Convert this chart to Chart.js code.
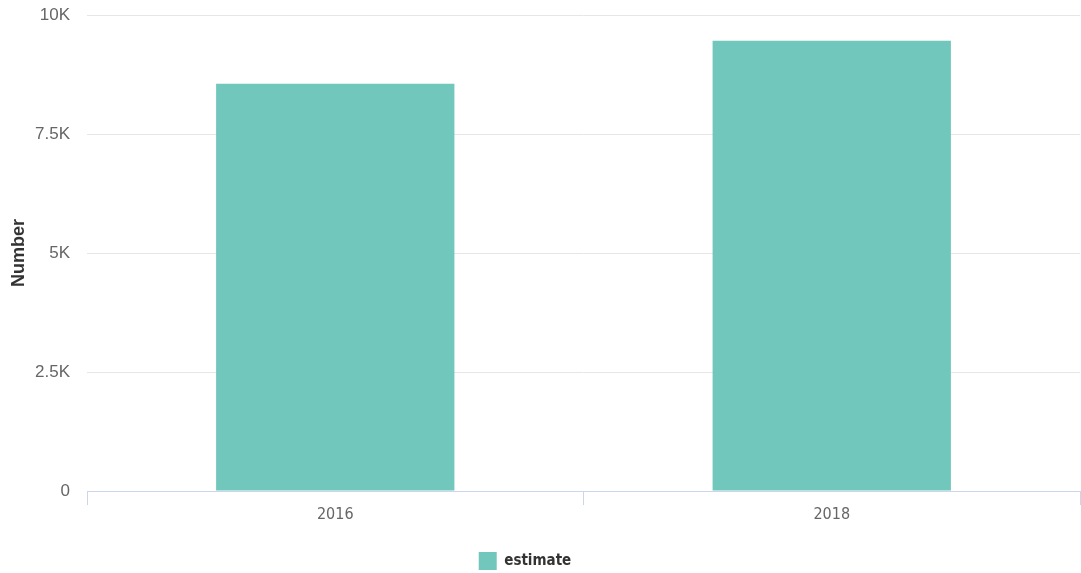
<!DOCTYPE html>
<html>
<head>
<meta charset="utf-8">
<script src="https://cdn.jsdelivr.net/npm/chart.js@4"></script>
<style>
  html, body { margin: 0; padding: 0; background: #fff; }
  #wrap { width: 1081px; height: 573px; }
</style>
</head>
<body>
<div id="wrap"><canvas id="numberChart" width="1081" height="573"></canvas></div>
<script>
// data
const years = ['2016', '2018'];
const estimate = [8555, 9460];
const yTicks = [0, 2500, 5000, 7500, 10000];

const barColor = '#72c7bd';
const narrow = '"Liberation Sans Narrow", "DejaVu Sans Condensed", "Liberation Sans", sans-serif';

function fmtK(v) {
  if (v === 0) return '0';
  return (v / 1000) + 'K';
}

// nudge the legend a bit left, like the original
const legendShift = {
  id: 'legendShift',
  afterLayout(chart) {
    if (chart.legend) {
      chart.legend.left -= 15;
      chart.legend.right -= 15;
    }
  }
};

const ctx = document.getElementById('numberChart').getContext('2d');

const data = {
  labels: years,
  datasets: [
    {
      label: 'estimate',
      data: estimate,
      backgroundColor: barColor,
      borderWidth: 0,
      barPercentage: 0.48,
      categoryPercentage: 1.0
    }
  ]
};

const config = {
  type: 'bar',
  data: data,
  plugins: [legendShift],
  options: {
    responsive: false,
    animation: false,
    layout: { padding: { left: 0, right: 1, top: 15, bottom: -7 } },
    scales: {
      y: {
        min: 0,
        max: 10000,
        afterBuildTicks: (scale) => { scale.ticks = yTicks.map(v => ({ value: v })); },
        afterFit: (scale) => {
          scale.width = 87;
          scale.paddingTop = 0;
          scale.paddingBottom = 0;
        },
        ticks: {
          padding: 17,
          color: '#666666',
          font: { family: '"Liberation Sans", Arial, sans-serif', size: 17 },
          callback: (v) => fmtK(v)
        },
        grid: { color: '#e6e6e6', drawTicks: false },
        border: { display: false },
        title: {
          display: true,
          text: 'Number',
          color: '#333333',
          padding: { top: 8, bottom: 0 },
          font: { family: '"Liberation Sans", Arial, sans-serif', size: 18, weight: 'bold' }
        }
      },
      x: {
        afterFit: (scale) => { scale.height = 51; },
        ticks: {
          padding: 0,
          color: '#666666',
          font: { family: narrow, size: 16 }
        },
        grid: {
          drawOnChartArea: false,
          drawTicks: true,
          tickLength: 14,
          color: '#ccd6eb'
        },
        border: { color: '#ccd6eb', width: 1 }
      }
    },
    plugins: {
      legend: {
        position: 'bottom',
        labels: {
          boxWidth: 18,
          boxHeight: 18,
          padding: 10,
          color: '#333333',
          font: { family: narrow, size: 15, weight: 'bold' }
        }
      },
      tooltip: { enabled: false }
    }
  }
};

const myChart = new Chart(ctx, config);
</script>
</body>
</html>
